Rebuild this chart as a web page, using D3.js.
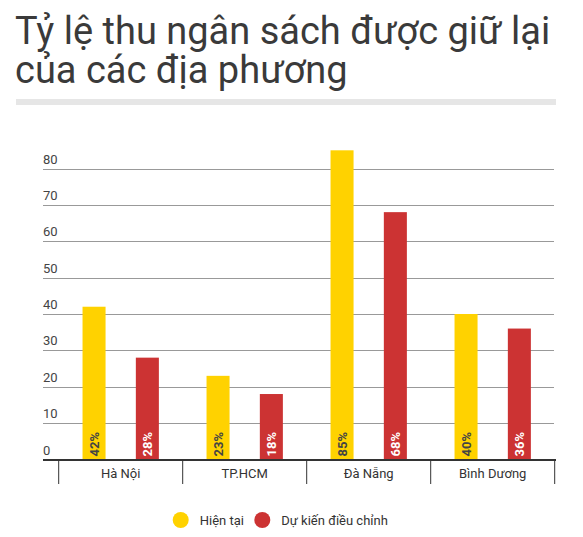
<!DOCTYPE html>
<html>
<head>
<meta charset="utf-8">
<script src="https://cdn.jsdelivr.net/npm/d3@7"></script>
<style>
  body { margin: 0; background: #fff; }
  svg { display: block; font-family: Roboto, "Noto Sans", sans-serif; }
</style>
</head>
<body>
<div id="chart"></div>
<script>
// Data
const regions = ["Hà Nội", "TP.HCM", "Đà Nẵng", "Bình Dương"];
const seriesNames = ["Hiện tại", "Dự kiến điều chỉnh"];
const current = [42, 23, 85, 40];
const planned = [28, 18, 68, 36];
const yTicks = [0, 10, 20, 30, 40, 50, 60, 70, 80];
const colors = ["#ffd200", "#cc3333"];
const labelColors = ["#444", "#fff"];

const width = 583, height = 537;
const svg = d3.select("#chart").append("svg")
    .attr("width", width)
    .attr("height", height);

// Title + grey rule
const title = svg.append("g").attr("fill", "#3a3a3a")
    .style("font-size", "38px");
title.append("text").attr("x", 15).attr("y", 44).text("Tỷ lệ thu ngân sách được giữ lại");
title.append("text").attr("x", 15).attr("y", 83).text("của các địa phương");
svg.append("rect")
    .attr("x", 16).attr("y", 99)
    .attr("width", 540).attr("height", 6)
    .attr("fill", "#e6e6e6");

// Scales
const y = d3.scaleLinear([0, 80], [459.5, 168.5]);
const x = d3.scaleBand(regions, [58.7, 554.7]);
const x1 = d3.scaleBand([0, 1], [0, x.bandwidth()]).paddingInner(0.568).paddingOuter(0.447);

// Gridlines and tick labels
const grid = svg.append("g");
grid.selectAll("line")
    .data(yTicks.filter(d => d > 0))
    .join("line")
        .attr("x1", 43).attr("x2", 554)
        .attr("y1", d => Math.round(y(d)) + 0.5)
        .attr("y2", d => Math.round(y(d)) + 0.5)
        .attr("stroke", "#999");
grid.selectAll("text")
    .data(yTicks)
    .join("text")
        .attr("x", 43)
        .attr("y", d => y(d) - 5)
        .attr("fill", "#444")
        .style("font-size", "13px")
        .text(d => d);

// Bars
const series = [current, planned];
const groups = svg.append("g").selectAll("g")
    .data(regions)
    .join("g")
        .attr("transform", d => `translate(${x(d)},0)`);

groups.selectAll("rect")
    .data((d, i) => series.map((s, k) => ({ k, v: s[i] })))
    .join("rect")
        .attr("x", d => x1(d.k))
        .attr("width", x1.bandwidth())
        .attr("y", d => y(d.v))
        .attr("height", d => y(0) - y(d.v))
        .attr("fill", d => colors[d.k]);

groups.selectAll("text")
    .data((d, i) => series.map((s, k) => ({ k, v: s[i] })))
    .join("text")
        .attr("transform", d => `translate(${x1(d.k) + x1.bandwidth() / 2 + 4.5},${y(0) - 3}) rotate(-90)`)
        .attr("fill", d => labelColors[d.k])
        .style("font-size", "13px")
        .style("font-weight", "bold")
        .text(d => d.v + "%");

// Bottom axis
const axis = svg.append("g");
axis.append("line")
    .attr("x1", 43).attr("x2", 556)
    .attr("y1", 460).attr("y2", 460)
    .attr("stroke", "#333").attr("stroke-width", 2);
axis.selectAll("line.tick")
    .data(regions.concat(["end"]))
    .join("line")
        .attr("class", "tick")
        .attr("x1", (d, i) => i < regions.length ? x(d) : x.range()[1])
        .attr("x2", (d, i) => i < regions.length ? x(d) : x.range()[1])
        .attr("y1", 460).attr("y2", 484)
        .attr("stroke", "#333");
axis.selectAll("text")
    .data(regions)
    .join("text")
        .attr("x", d => x(d) + x.bandwidth() / 2)
        .attr("y", 477.5)
        .attr("text-anchor", "middle")
        .attr("fill", "#333")
        .style("font-size", "13px")
        .text(d => d);

// Legend
const legendX = [180.7, 262.3];
const legend = svg.append("g").selectAll("g")
    .data(seriesNames)
    .join("g")
        .attr("transform", (d, i) => `translate(${legendX[i]},520)`);
legend.append("circle")
    .attr("r", 8)
    .attr("fill", (d, i) => colors[i]);
legend.append("text")
    .attr("x", 19)
    .attr("y", 4.5)
    .attr("fill", "#333")
    .style("font-size", "13px")
    .text(d => d);
</script>
</body>
</html>
